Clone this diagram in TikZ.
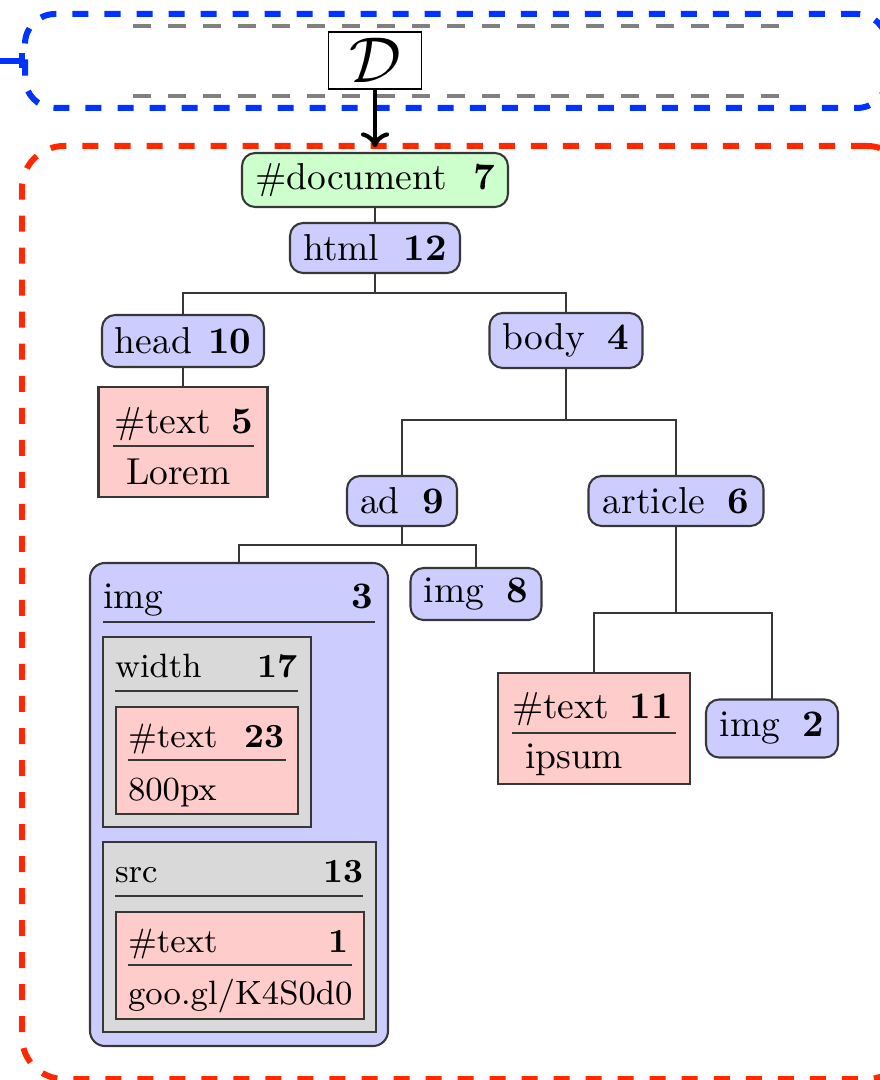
\documentclass[tikz,border=0pt]{standalone}
\usetikzlibrary{arrows.meta}
\definecolor{nodeblue}{RGB}{204,204,255}
\definecolor{nodegreen}{RGB}{204,255,204}
\definecolor{nodepink}{RGB}{255,204,204}
\definecolor{attrgray}{RGB}{217,217,217}
\definecolor{linegray}{RGB}{55,55,55}
\definecolor{frameblue}{RGB}{0,51,255}
\definecolor{framered}{RGB}{255,40,0}
\definecolor{tapegray}{RGB}{128,128,128}
\def\PX{0.2667pt}
\begin{document}
\begin{tikzpicture}[x=0.2667pt,y=-0.2667pt,
  box/.style={draw=linegray, line width=0.55pt, inner sep=0pt, outer sep=0pt},
  elem/.style={box, rounded corners=3.5pt, fill=nodeblue},
  txt/.style={box, fill=nodepink},
  attr/.style={box, fill=attrgray},
  edge/.style={draw=linegray, line width=0.55pt},
  rule/.style={draw=linegray, line width=0.45pt},
  lbl/.style={inner sep=0pt, outer sep=0pt, anchor=base west},
  num/.style={inner sep=0pt, outer sep=0pt, anchor=base east, font=\bfseries},
  slbl/.style={lbl, font=\small},
  snum/.style={num, font=\small\bfseries},
  region/.style={line width=1.6pt, dash pattern=on 4.27pt off 4.27pt, inner sep=0pt, outer sep=0pt},
  tape/.style={draw=tapegray, line width=0.9pt, dash pattern=on 4.8pt off 4.5pt},
]
\useasboundingbox (0,0) rectangle (880,1080);
\clip (0,0) rectangle (880,1080);

% dashed regions
\node[region, draw=frameblue, rounded corners=8pt,
      minimum width=862*\PX, minimum height=94*\PX] (tapeframe) at (456,61) {};
\node[region, draw=framered, rounded corners=11.2pt,
      minimum width=887*\PX, minimum height=933*\PX] (treeframe) at (465.5,612.5) {};

% incoming wire with bar end
\coordinate (tapein) at (0,61);
\draw[frameblue, line width=1.6pt, -{Bar[width=4pt]}] (tapein) -- (tapeframe.west);

% tape rails
\draw[tape] (133,26) -- (792,26);
\draw[tape] (133,96) -- (792,96);

% dataset symbol
\node[draw=black, line width=0.45pt, fill=white, inner sep=0pt,
      minimum width=93*\PX, minimum height=57*\PX, font=\LARGE] (dset) at (375,60.5) {$\mathcal{D}$};

% tree nodes
\node[elem, fill=nodegreen, minimum width=266*\PX, minimum height=54*\PX] (doc) at (375,180) {\#document\hspace{7pt}\textbf{7}};
\node[elem, minimum width=170*\PX, minimum height=50*\PX] (html) at (375,248) {html\hspace{6.5pt}\textbf{12}};
\node[elem, minimum width=162*\PX, minimum height=52*\PX] (head) at (183,341) {head\hspace{4.3pt}\textbf{10}};
\node[elem, minimum width=153*\PX, minimum height=55*\PX] (body) at (566,340.5) {body\hspace{6pt}\textbf{4}};
\node[txt, minimum width=169*\PX, minimum height=110*\PX] (lorem) at (183,442) {};
\node[elem, minimum width=110*\PX, minimum height=50*\PX] (ad) at (402,501) {ad\hspace{6pt}\textbf{9}};
\node[elem, minimum width=175*\PX, minimum height=50*\PX] (article) at (676,501) {article\hspace{6pt}\textbf{6}};
\node[elem, minimum width=131*\PX, minimum height=52*\PX] (imgb) at (476,594) {img\hspace{6pt}\textbf{8}};
\node[txt, minimum width=192*\PX, minimum height=111*\PX] (ipsum) at (594,728.5) {};
\node[elem, minimum width=132*\PX, minimum height=58*\PX] (imgc) at (772,728.5) {img\hspace{6pt}\textbf{2}};
\node[elem, rounded corners=4pt, minimum width=298*\PX, minimum height=483*\PX] (imga) at (239,804.5) {};

% text node contents: Lorem
\node[lbl] (lhead) at (114,433) {\#text};
\node[num] (lnum) at (253,433) {5};
\draw[rule] (113,446) -- (254,446);
\node[lbl] (lval) at (126,484) {Lorem};

% text node contents: ipsum
\node[lbl] (ihead) at (512,718) {\#text};
\node[num] (inum) at (673,718) {11};
\draw[rule] (512,733) -- (676,733);
\node[lbl] (ival) at (525,768) {ipsum};

% expanded img element with its attributes
\node[lbl] (ahead) at (103,608) {img};
\node[num] (anum) at (373,608) {3};
\draw[rule] (103,622) -- (375,622);

\node[attr, minimum width=208*\PX, minimum height=190*\PX] (wbox) at (207,732) {};
\node[slbl] (whead) at (115,677) {width};
\node[snum] (wnum) at (297,677) {17};
\draw[rule] (115,691) -- (298,691);
\node[txt, minimum width=182*\PX, minimum height=107*\PX] (wtext) at (207,760.5) {};
\node[slbl] (wthead) at (128,747) {\#text};
\node[snum] (wtnum) at (284,747) {23};
\draw[rule] (128,760) -- (286,760);
\node[slbl] (wtval) at (128,800) {800px};

\node[attr, minimum width=273*\PX, minimum height=190*\PX] (sbox) at (239.5,937) {};
\node[slbl] (shead) at (115,882) {src};
\node[snum] (snum) at (363,882) {13};
\draw[rule] (115,896) -- (363,896);
\node[txt, minimum width=248*\PX, minimum height=107*\PX] (stext) at (240,965.5) {};
\node[slbl] (sthead) at (128,952) {\#text};
\node[snum] (stnum) at (348,952) {1};
\draw[rule] (128,965) -- (352,965);
\node[slbl] (stval) at (128,1004) {goo.gl/K4S0d0};

% connectors
\draw[black, line width=1.1pt, -{To[length=4pt,width=7.5pt]}, shorten >=1.5pt] (dset) -- (doc);
\draw[edge] (doc) -- (html);
\coordinate (jhtml) at (375,293);
\draw[edge] (html.south) -- (jhtml);
\draw[edge] (head.north) |- (jhtml) -| (body.north);
\draw[edge] (head) -- (lorem);
\coordinate (jbody) at (566,420);
\draw[edge] (body.south) -- (jbody);
\draw[edge] (ad.north) |- (jbody) -| (article.north);
\coordinate (jad) at (402,545);
\draw[edge] (ad.south) -- (jad);
\draw[edge] (imga.north) |- (jad) -| (imgb.north);
\coordinate (jart) at (676,613);
\draw[edge] (article.south) -- (jart);
\draw[edge] (ipsum.north) |- (jart) -| (imgc.north);
\end{tikzpicture}
\end{document}
